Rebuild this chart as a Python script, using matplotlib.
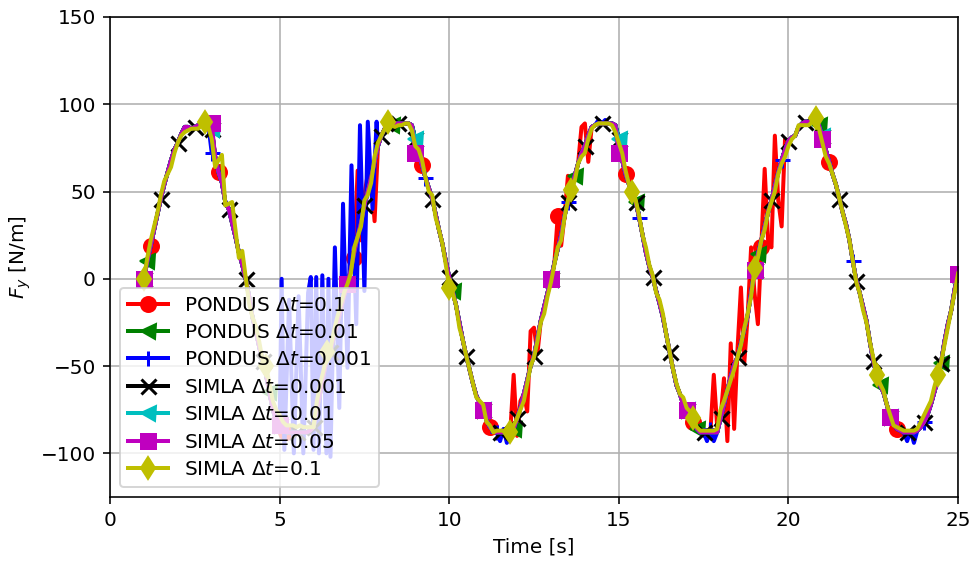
import numpy as np
import matplotlib
matplotlib.use("Agg")
import matplotlib.pyplot as plt

# sample times: every 0.1 s starting at 1.0 s
t_first = 1.0
t_step = 0.1

# Fy [N/m], one row per second (1.0 .. 24.9, then 25.0)
fy_base = [
    0, 10, 19, 28, 37, 46, 54, 61, 68, 74,
    78, 83, 87, 87, 86, 87, 88, 88, 88, 88,
    86, 70, 61, 55, 44, 40, 32, 24, 15, 8,
    0, -10, -22, -30, -39, -47, -55, -65, -75, -81,
    -84, -86, -88, -88, -88, -88, -88, -88, -88, -87,
    -85, -75, -65, -55, -45, -42, -33, -26, -18, -10,
    -3, 5, 15, 24, 32, 42, 50, 58, 67, 76,
    82, 86, 88, 88, 89, 89, 89, 89, 89, 88,
    80, 72, 65, 58, 52, 46, 37, 28, 20, 10,
    1, -7, -15, -25, -35, -44, -52, -60, -67, -71,
    -75, -81, -85, -87, -88, -88, -88, -88, -88, -86,
    -80, -74, -66, -58, -50, -44, -34, -24, -16, -8,
    0, 9, 17, 25, 36, 44, 51, 59, 66, 72,
    76, 82, 87, 88, 89, 89, 89, 89, 89, 88,
    80, 68, 60, 54, 50, 44, 35, 25, 15, 7,
    1, -7, -14, -22, -32, -42, -52, -61, -66, -72,
    -75, -79, -82, -86, -88, -88, -88, -88, -88, -88,
    -80, -72, -64, -56, -49, -45, -37, -29, -21, -8,
    5, 14, 22, 30, 38, 45, 53, 61, 68, 74,
    79, 81, 82, 87, 89, 90, 90, 90, 90, 88,
    82, 74, 67, 60, 54, 46, 38, 31, 22, 10,
    -1, -8, -16, -24, -36, -47, -55, -61, -65, -72,
    -79, -83, -86, -87, -88, -88, -88, -88, -87, -85,
    -82, -78, -72, -65, -58, -48, -36, -26, -18, -6,
    3,
]

# SIMLA dt=0.1 is the jagged yellow line on top
fy_simla_01 = [
    0, 12, 22, 30, 38, 48, 56, 60, 64, 72,
    78, 82, 84, 85, 86, 86, 86, 88, 90, 87,
    80, 64, 68, 71, 42, 43, 44, 28, 12, 16,
    1, -14, -22, -27, -36, -47, -50, -60, -70, -75,
    -78, -82, -84, -84, -84, -85, -84, -85, -85, -85,
    -85, -70, -60, -52, -42, -40, -30, -22, -15, -8,
    -3, 3, 18, 24, 30, 45, 48, 55, 70, 78,
    82, 86, 90, 88, 87, 88, 88, 89, 89, 85,
    76, 74, 68, 58, 50, 48, 35, 28, 20, 8,
    -5, -8, -15, -28, -35, -44, -52, -60, -68, -70,
    -72, -82, -84, -88, -87, -87, -87, -87, -88, -84,
    -80, -75, -70, -60, -50, -45, -36, -25, -20, -10,
    -2, 8, 18, 22, 35, 45, 51, 56, 66, 70,
    72, 80, 86, 88, 89, 89, 89, 89, 88, 84,
    78, 72, 62, 54, 50, 45, 36, 25, 18, 8,
    2, -8, -12, -20, -32, -42, -52, -60, -66, -68,
    -74, -76, -80, -85, -87, -87, -87, -87, -87, -86,
    -75, -70, -64, -58, -52, -45, -38, -28, -20, -10,
    6, 12, 22, 28, 38, 44, 50, 60, 66, 70,
    76, 80, 82, 88, 88, 88, 88, 90, 92, 86,
    78, 70, 66, 60, 54, 46, 38, 30, 22, 10,
    -2, -8, -18, -25, -36, -45, -55, -60, -64, -72,
    -78, -84, -85, -86, -87, -87, -87, -87, -86, -82,
    -78, -74, -70, -62, -55, -48, -38, -28, -18, -8,
    3,
]

# PONDUS dt=0.1 spikes (replace base values at these times)
red_fix_t = [7.2, 7.3, 7.4, 7.5, 7.6, 7.8, 11.9, 12.0, 12.1, 12.3, 12.4,
             12.5, 12.6, 13.0, 13.2, 13.3, 13.5, 13.9, 14.0, 14.1,
             17.8, 17.9, 18.1, 18.2, 18.3, 18.4, 18.5, 18.6, 18.7, 18.8,
             18.9, 19.0, 19.1, 19.2, 19.3, 19.4, 19.5, 19.6, 19.7, 19.8, 19.9]
red_fix_y = [12, 62, 22, 48, 60, 33, -55, -90, -70, -76, -30,
             -28, -43, -2, 36, 19, 59, 87, 89, 67,
             -55, -85, -57, -93, -37, -86, -40, -5, -48, -21,
             18, -8, -26, 18, 63, 22, 18, 82, 45, 30, 80]

# PONDUS dt=0.001 burst while the line passes 5..8 s
blue_burst_t = [5.00, 5.06, 5.14, 5.28, 5.42, 5.56, 5.70, 5.84, 5.92, 6.00,
                6.08, 6.16, 6.26, 6.38, 6.44, 6.50, 6.63, 6.76, 6.87, 7.00,
                7.12, 7.26, 7.37, 7.50, 7.60, 7.74, 7.86]
blue_burst_y = [-86, 0, -98, -12, -100, -10, -100, -8, 1, -98,
                1, -100, 2, -100, 0, -102, 18, -74, 43, -51,
                65, -26, 88, -7, 90, 40, 90]
blue_fix_t = [3.0, 11.5, 11.6, 11.7, 14.4, 14.6, 17.6, 17.7, 17.8, 23.5, 23.6, 23.7]
blue_fix_y = [72, -93, -86, -94, 91, 91, -93, -86, -93, -93, -87, -94]

magenta_fix_t = [3.0, 9.0, 15.0, 21.0]
magenta_fix_y = [89, 72, 72, 80]


def time_axis(values):
    return t_first + t_step * np.arange(len(values))


def with_fixes(values, fix_t, fix_y):
    t = time_axis(values)
    y = np.array(values, dtype=float)
    for ti, yi in zip(fix_t, fix_y):
        y[np.argmin(np.abs(t - ti))] = yi
    return t, y


def spliced(values, ins_t, ins_y):
    t = time_axis(values)
    y = np.array(values, dtype=float)
    keep = (t < ins_t[0] - 1e-6) | (t > ins_t[-1] + 1e-6)
    t_all = np.concatenate([t[keep], ins_t])
    y_all = np.concatenate([y[keep], ins_y])
    order = np.argsort(t_all)
    return t_all[order], y_all[order]


def marks(t, first, every, skip=None):
    times = np.arange(first, 25.0 + 1e-6, every)
    if skip is not None:
        times = [m for m in times if not (skip[0] <= m <= skip[1])]
    return [int(np.argmin(np.abs(t - m))) for m in times]


dpi = 144
fig = plt.figure(figsize=(975 / dpi, 562 / dpi), dpi=dpi)
ax = fig.add_subplot(111)

t_base = time_axis(fy_base)
t_red, y_red = with_fixes(fy_base, red_fix_t, red_fix_y)
t_blue, y_blue = spliced(fy_base, blue_burst_t, blue_burst_y)
for ti, yi in zip(blue_fix_t, blue_fix_y):
    y_blue[np.argmin(np.abs(t_blue - ti))] = yi
t_mag, y_mag = with_fixes(fy_base, magenta_fix_t, magenta_fix_y)
t_yel = time_axis(fy_simla_01)

ms = 7.5
lw = 2
ax.plot(t_red, y_red, 'r-o', lw=lw, ms=ms, markevery=marks(t_red, 1.2, 2.0),
        label=r'PONDUS $\Delta t$=0.1')
ax.plot(t_base, fy_base, 'g-<', lw=lw, ms=ms, markevery=marks(t_base, 1.1, 1.8),
        label=r'PONDUS $\Delta t$=0.01')
ax.plot(t_blue, y_blue, 'b-+', lw=lw, ms=ms, mew=1.5,
        markevery=marks(t_blue, 3.0, 2.1, skip=(4.9, 8.0)),
        label=r'PONDUS $\Delta t$=0.001')
ax.plot(t_base, fy_base, 'k-x', lw=lw, ms=ms, mew=1.5, markevery=marks(t_base, 1.0, 0.5),
        label=r'SIMLA $\Delta t$=0.001')
ax.plot(t_base, fy_base, 'c-<', lw=lw, ms=ms, markevery=marks(t_base, 1.0, 2.0),
        label=r'SIMLA $\Delta t$=0.01')
ax.plot(t_mag, y_mag, 'm-s', lw=lw, ms=ms, markevery=marks(t_mag, 1.0, 2.0),
        label=r'SIMLA $\Delta t$=0.05')
ax.plot(t_yel, fy_simla_01, 'y-d', lw=lw, ms=ms + 0.5, markevery=marks(t_yel, 1.0, 1.8),
        label=r'SIMLA $\Delta t$=0.1')

ax.set_xlim(0, 25)
ax.set_ylim(-125, 150)
ax.set_xlabel('Time [s]')
ax.set_ylabel(r'$F_y$ [N/m]')
ax.grid(True)
ax.legend(loc='lower left', labelspacing=0.42)

fig.subplots_adjust(left=0.1128, right=0.9826, bottom=0.1157, top=0.9698)
fig.savefig('out.png', dpi=dpi)
